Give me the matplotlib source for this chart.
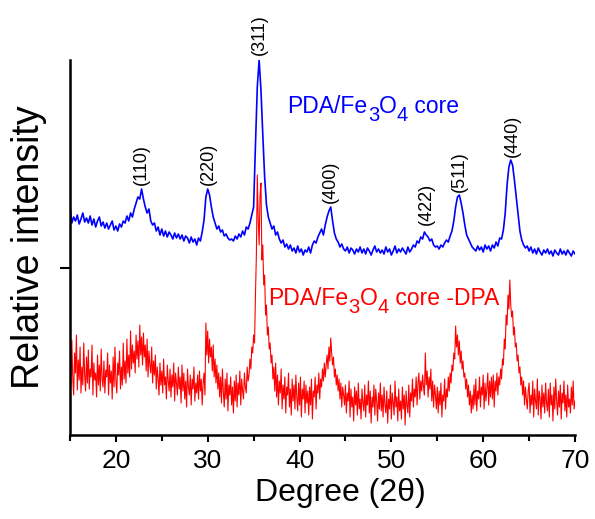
import numpy as np
import matplotlib.pyplot as plt

plt.rcParams['font.family'] = ['Liberation Sans', 'DejaVu Sans']

# 2-theta grids of the two scans (blue read every 0.2 deg, red every 0.1 deg)
theta_core = np.round(np.arange(15.0, 70.01, 0.2), 1)
theta_dpa = np.round(np.arange(15.0, 70.001, 0.1), 1)

# PDA/Fe3O4 core (blue)
core = [
    230, 212, 218, 214, 220, 211, 216, 222, 213, 217,
    212, 219, 210, 216, 208, 214, 218, 209, 213, 207,
    212, 206, 210, 214, 205, 209, 204, 211, 208, 214,
    212, 219, 214, 222, 218, 226, 232, 238, 236, 246,
    236, 228, 222, 226, 214, 210, 212, 204, 208, 200,
    206, 199, 204, 198, 203, 200, 196, 202, 197, 201,
    196, 200, 194, 199, 197, 192, 198, 193, 196, 190,
    197, 194, 203, 215, 238, 246, 240, 228, 218, 212,
    206, 209, 203, 205, 199, 201, 197, 195, 196, 194,
    199, 196, 201, 198, 204, 200, 208, 206, 212, 220,
    228, 290, 348, 375, 345, 300, 258, 230, 218, 212,
    206, 209, 200, 203, 196, 192, 195, 188, 191, 186,
    190, 184, 187, 182, 189, 183, 186, 180, 185, 183,
    188, 182, 190, 194, 192, 198, 202, 206, 200, 210,
    218, 224, 228, 214, 202, 196, 193, 188, 191, 186,
    184, 188, 182, 187, 185, 181, 186, 183, 188, 182,
    186, 181, 187, 184, 180, 185, 189, 183, 186, 182,
    185, 181, 188, 183, 186, 180, 184, 189, 182, 186,
    183, 187, 184, 181, 188, 183, 186, 190, 188, 194,
    192, 198, 196, 203, 200, 198, 194, 196, 190, 188,
    189, 186, 190, 188, 192, 195, 193, 199, 204, 214,
    228, 238, 240, 232, 222, 210, 200, 196, 192, 188,
    186, 184, 189, 185, 188, 183, 190, 186, 189, 184,
    190, 187, 193, 189, 197, 196, 205, 222, 250, 268,
    275, 270, 255, 238, 220, 204, 195, 190, 187, 189,
    184, 188, 182, 186, 181, 187, 183, 180, 185, 182,
    186, 181, 184, 179, 185, 182, 180, 186, 181, 184,
    180, 185, 182, 179, 184, 181,
]

# PDA/Fe3O4 core -DPA (red)
core_dpa = [
    70, 48, 95, 58, 40, 82, 62, 100, 45, 75, 55, 88, 42, 68, 50, 92, 60, 44, 78, 52,
    85, 46, 66, 58, 90, 40, 72, 55, 62, 38, 80, 50, 70, 44, 86, 56, 48, 74, 42, 65,
    58, 82, 40, 70, 52, 64, 36, 78, 48, 88, 54, 42, 72, 60, 84, 46, 68, 50, 92, 56,
    74, 52, 96, 62, 80, 58, 104, 66, 90, 72, 84, 62, 100, 76, 94, 68, 110, 80, 98, 70,
    102, 78, 90, 64, 96, 58, 84, 70, 62, 88, 52, 74, 60, 80, 46, 68, 56, 40, 72, 50,
    64, 42, 76, 50, 58, 36, 70, 54, 44, 66, 38, 60, 48, 72, 34, 62, 52, 40, 68, 46,
    58, 32, 70, 44, 62, 36, 54, 28, 66, 48, 40, 60, 30, 56, 46, 68, 34, 52, 42, 60,
    36, 64, 44, 56, 30, 52, 62, 40, 112, 80, 104, 72, 96, 78, 88, 64, 90, 58, 76, 52,
    70, 46, 62, 38, 58, 32, 66, 44, 28, 56, 36, 62, 24, 50, 40, 58, 30, 48, 22, 54,
    34, 60, 28, 52, 40, 64, 30, 56, 44, 36, 62, 48, 42, 68, 54, 60, 76, 66, 88, 82,
    100, 92, 140, 180, 260, 215, 190, 240, 252, 175, 190, 150, 160, 120, 130, 100, 108, 86, 92, 72,
    80, 56, 68, 44, 72, 38, 60, 30, 54, 42, 66, 26, 50, 36, 58, 22, 48, 40, 62, 28,
    46, 20, 56, 34, 50, 26, 60, 38, 24, 52, 30, 58, 18, 46, 36, 54, 22, 50, 32, 44,
    20, 48, 30, 56, 16, 44, 38, 58, 26, 50, 42, 62, 36, 56, 48, 66, 54, 72, 58, 70,
    80, 66, 88, 74, 97, 82, 70, 78, 58, 66, 50, 60, 44, 56, 36, 52, 28, 48, 40, 30,
    50, 22, 42, 34, 54, 18, 46, 28, 38, 14, 48, 30, 44, 20, 52, 26, 36, 16, 46, 32,
    24, 50, 18, 40, 30, 54, 22, 44, 12, 38, 28, 50, 20, 46, 34, 14, 42, 26, 52, 24,
    40, 18, 48, 30, 22, 44, 12, 36, 26, 50, 16, 42, 32, 20, 54, 28, 38, 14, 46, 24,
    34, 16, 48, 26, 40, 10, 44, 30, 22, 50, 18, 42, 34, 56, 28, 46, 38, 58, 30, 52,
    62, 36, 54, 44, 60, 48, 40, 82, 50, 64, 38, 58, 46, 66, 34, 54, 28, 50, 40, 26,
    48, 22, 44, 30, 52, 18, 40, 34, 56, 26, 46, 38, 58, 44, 62, 52, 70, 64, 82, 76,
    109, 88, 100, 80, 94, 72, 84, 66, 74, 58, 62, 46, 56, 38, 50, 30, 44, 22, 40, 26,
    50, 30, 56, 24, 44, 36, 58, 28, 48, 40, 60, 26, 52, 34, 46, 62, 30, 54, 38, 58,
    36, 60, 28, 54, 44, 62, 40, 58, 50, 66, 56, 76, 70, 96, 86, 120, 110, 140, 126, 155,
    130, 118, 124, 100, 108, 88, 92, 74, 80, 62, 68, 50, 58, 40, 54, 30, 48, 36, 26, 44,
    52, 22, 40, 30, 54, 18, 46, 34, 26, 56, 20, 44, 36, 16, 50, 28, 42, 22, 52, 32,
    24, 46, 18, 52, 30, 40, 14, 48, 26, 56, 34, 20, 44, 28, 50, 16, 42, 32, 54, 24,
    40, 18, 50, 28, 36, 22, 48, 30, 54, 26, 34,
]

# hkl labels: position and height of the label foot
hkl = ['(110)', '(220)', '(311)', '(400)', '(422)', '(511)', '(440)']
hkl_x = [22.8, 30.1, 35.65, 43.4, 53.8, 57.4, 63.2]
hkl_y = [250, 250, 380, 232, 210, 243, 278]

fig = plt.figure(figsize=(5.95, 5.19), dpi=100)
ax = fig.add_axes([0.1176, 0.1618, 0.8488, 0.7226])

ax.plot(theta_dpa, core_dpa, color='red', lw=0.8)
ax.plot(theta_core, core, color='blue', lw=1.2)

for lab, x, y in zip(hkl, hkl_x, hkl_y):
    ax.text(x, y, lab, rotation=90, ha='center', va='bottom', fontsize=13,
            clip_on=False)


def chem_label(x, y, tail, color):
    # PDA/Fe3O4 with big, low subscripts like the original
    fs, sub = 16.5, 14.5
    t = ax.text(x, y, 'PDA/Fe', color=color, fontsize=fs, va='baseline')
    parts = [('3', sub, -5), ('O', fs, 5), ('4', sub, -5), (tail, fs, 5)]
    for s, size, dy in parts:
        t = ax.annotate(s, xy=(1, 0), xycoords=t, xytext=(0, dy),
                        textcoords='offset points', color=color,
                        fontsize=size, va='bottom', ha='left')


chem_label(38.7, 322, ' core', 'blue')
chem_label(36.6, 130, ' core -DPA', 'red')

ax.set_xlim(15, 70)
ax.set_ylim(0, 375)
ax.set_xticks([20, 30, 40, 50, 60, 70])
ax.set_xticks([15, 25, 35, 45, 55, 65], minor=True)
ax.set_yticks([167])
ax.set_yticklabels([])
ax.tick_params(axis='x', which='major', direction='out', length=5, width=1.5,
               labelsize=19, pad=5)
ax.tick_params(axis='x', which='minor', direction='out', length=4, width=1.5)
ax.tick_params(axis='y', direction='out', length=7, width=1.5)
for s in ['top', 'right']:
    ax.spines[s].set_visible(False)
for s in ['left', 'bottom']:
    ax.spines[s].set_linewidth(1.8)

ax.set_xlabel('Degree (2θ)', fontsize=23, labelpad=8)
ax.xaxis.set_label_coords(0.535, -0.115)
ax.set_ylabel('Relative intensity', fontsize=27, labelpad=6)

plt.savefig('out.png')
